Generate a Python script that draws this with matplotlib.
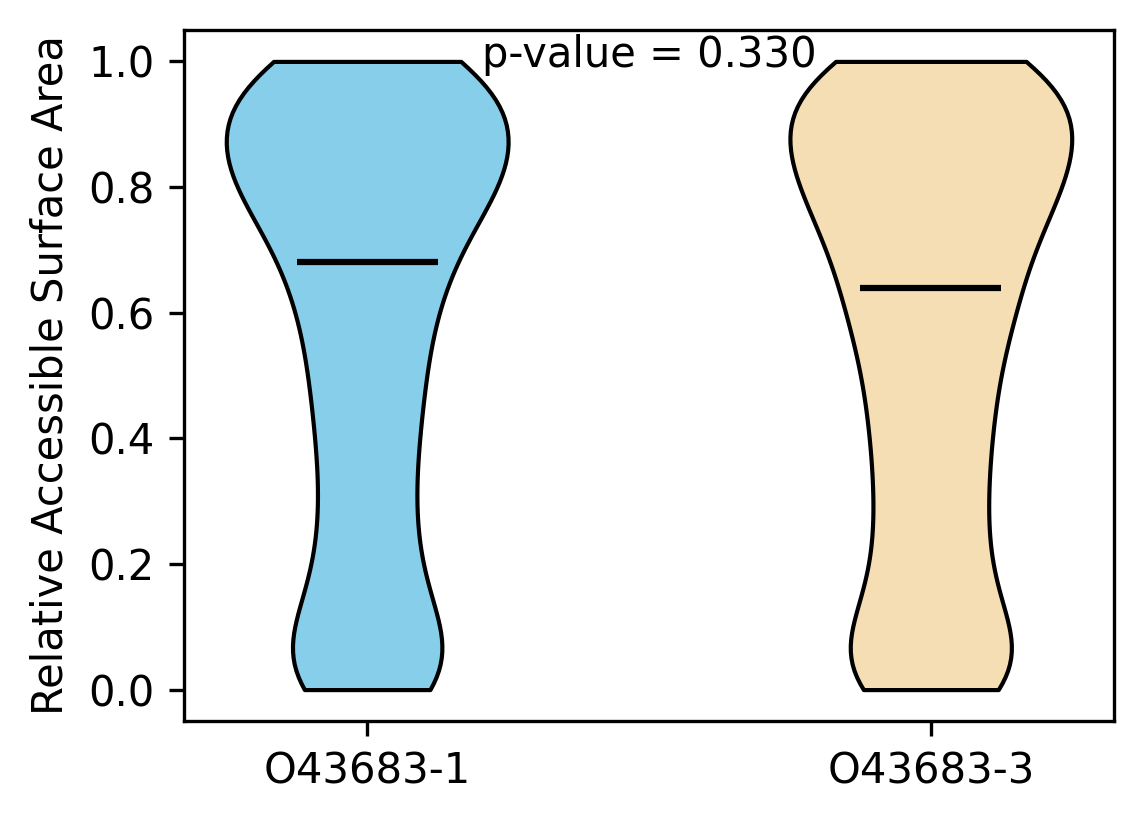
import numpy as np
import matplotlib
matplotlib.use("Agg")
import matplotlib.pyplot as plt

# RSA values (binned), with residue counts per bin
rsa_bins = [0.00, 0.05, 0.10, 0.15, 0.20, 0.25, 0.30, 0.35, 0.40, 0.45, 0.50,
            0.55, 0.60, 0.64, 0.65, 0.68, 0.70, 0.75, 0.80, 0.85, 0.90, 0.95, 1.00]
counts_iso1 = [75, 57, 42, 33, 30, 28, 27, 28, 30, 33, 34,
               36, 39, 0, 42, 20, 31, 69, 84, 90, 90, 84, 90]
counts_iso3 = [80, 62, 45, 36, 34, 33, 33, 34, 36, 38, 40,
               43, 48, 40, 15, 0, 62, 70, 80, 88, 92, 88, 92]

isoforms = ["O43683-1", "O43683-3"]
colors = ["skyblue", "wheat"]
p_value = 0.330

rsa_iso1 = np.repeat(rsa_bins, counts_iso1)
rsa_iso3 = np.repeat(rsa_bins, counts_iso3)

fig = plt.figure(figsize=(1144 / 300, 824 / 300), dpi=300)
ax = fig.add_axes([184 / 1144, 1 - 721 / 824, 930 / 1144, 691 / 824])

parts = ax.violinplot([rsa_iso1, rsa_iso3], positions=[1, 2],
                      showmeans=False, showextrema=False, showmedians=True)
for body, c in zip(parts['bodies'], colors):
    body.set_facecolor(c)
    body.set_edgecolor('black')
    body.set_alpha(1)
parts['cmedians'].set_color('black')
parts['cmedians'].set_linewidth(1.5)

ax.set_xticks([1, 2])
ax.set_xticklabels(isoforms)
ax.set_ylabel("Relative Accessible Surface Area")
ax.text(1.5, 1.01, f"p-value = {p_value:.3f}", ha='center', va='center')

fig.savefig("out.png", dpi=300)
